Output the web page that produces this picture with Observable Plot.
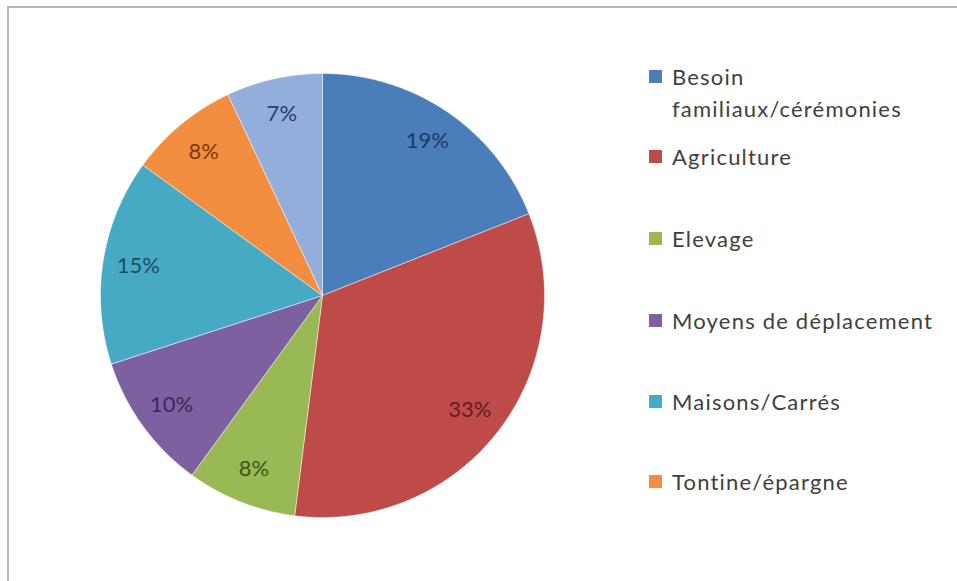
<!DOCTYPE html>
<html>
<head>
<meta charset="utf-8">
<script src="https://cdn.jsdelivr.net/npm/d3@7"></script>
<script src="https://cdn.jsdelivr.net/npm/@observablehq/plot@0.6"></script>
<style>
  html, body { margin: 0; padding: 0; background: #fff; }
  #wrap { position: relative; width: 957px; height: 581px; overflow: hidden; }
  #frame { position: absolute; left: 7px; top: 6px; width: 960px; height: 600px;
           border-top: 2px solid #b8b8b8; border-left: 2px solid #b8b8b8; box-sizing: border-box; }
  #legend { position: absolute; left: 649px; top: 0; font-family: Lato, "Open Sans", sans-serif;
            font-size: 22px; letter-spacing: 1.2px; color: #404040; }
  .item { position: absolute; left: 0; width: 300px; }
  .sw { position: absolute; left: 0; width: 13px; height: 13px; }
  .lab { position: absolute; left: 23px; width: 278px; line-height: 32px; white-space: normal; }
  #chart { position: absolute; left: 0; top: 0; }
</style>
</head>
<body>
<div id="wrap">
  <div id="frame"></div>
  <div id="chart"></div>
  <div id="legend"></div>
</div>
<script>
// ---- data ----
const categories = ["Besoin familiaux/cérémonies", "Agriculture", "Elevage", "Moyens de déplacement", "Maisons/Carrés", "Tontine/épargne", "Autres"];
const values = [19, 33, 8, 10, 15, 8, 7];
const labels = ["19%", "33%", "8%", "10%", "15%", "8%", "7%"];
const colors = ["#4A7EBB", "#BE4B48", "#98B954", "#7D60A0", "#46AAC5", "#F38D3F", "#93AEDA"];
const labelColors = ["#1F3A63", "#5E1F1D", "#3F5520", "#3A2A55", "#1C4E5E", "#7A3A0A", "#24406E"];
const legendCategories = categories.slice(0, 6);

// ---- slice geometry from the data (angles via d3.pie) ----
const arcs = d3.pie().sort(null).value(d => d)(values);
const pts = [];
arcs.forEach((a, i) => {
  const cat = categories[i];
  pts.push({cat, x: 0, y: 0});
  const n = Math.max(4, Math.ceil((a.endAngle - a.startAngle) / 0.005));
  for (let k = 0; k <= n; k++) {
    const t = a.startAngle + (a.endAngle - a.startAngle) * k / n;
    pts.push({cat, x: Math.sin(t), y: Math.cos(t)});
  }
  pts.push({cat, x: 0, y: 0});
});
const labelR = 0.84;
const labelData = arcs.map((a, i) => {
  const m = (a.startAngle + a.endAngle) / 2;
  return {cat: categories[i], text: labels[i], color: labelColors[i], x: labelR * Math.sin(m), y: labelR * Math.cos(m)};
});

const chart = Plot.plot({
  width: 957,
  height: 581,
  marginLeft: 100,
  marginRight: 413,
  marginTop: 73,
  marginBottom: 64,
  x: {domain: [-1, 1], axis: null},
  y: {domain: [-1, 1], axis: null},
  color: {domain: categories, range: colors},
  style: {background: "transparent", overflow: "visible"},
  marks: [
    Plot.line(pts, {x: "x", y: "y", z: "cat", fill: "cat", stroke: "#ffffff", strokeWidth: 0.8, strokeOpacity: 0.6, curve: "linear"}),
    Plot.text(labelData, {x: "x", y: "y", text: "text", fill: "color", fontSize: 22, fontFamily: "Lato, 'Open Sans', sans-serif", letterSpacing: "0.6px"})
  ]
});
document.getElementById("chart").appendChild(chart);

// ---- legend (HTML, colours from the same arrays) ----
const legendTops = [61, 141, 223, 305, 386, 466];
const legend = document.getElementById("legend");
legendCategories.forEach((c, i) => {
  const it = document.createElement("div");
  it.className = "item";
  it.style.top = legendTops[i] + "px";
  const sw = document.createElement("div");
  sw.className = "sw";
  sw.style.background = colors[i];
  sw.style.top = "9px";
  const lab = document.createElement("div");
  lab.className = "lab";
  lab.textContent = c;
  it.appendChild(sw);
  it.appendChild(lab);
  legend.appendChild(it);
});
</script>
</body>
</html>
